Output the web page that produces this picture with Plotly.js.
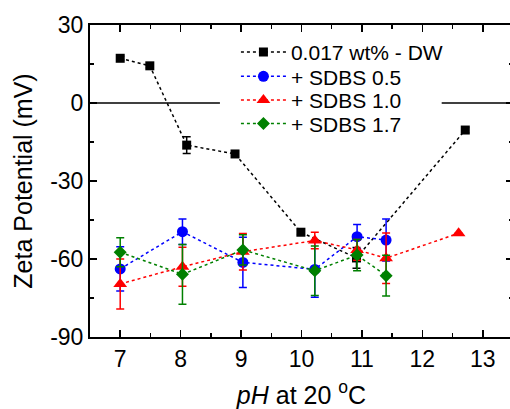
<!DOCTYPE html>
<html>
<head>
<meta charset="utf-8">
<script src="https://cdn.plot.ly/plotly-3.0.1.min.js"></script>
<style>
html,body{margin:0;padding:0;overflow:hidden;background:#fff;width:510px;height:409px;}
#chart{width:530px;height:409px;}
</style>
</head>
<body>
<div id="chart"></div>
<script>
// Data
const phDW = [7.0, 7.49, 8.1, 8.9, 9.99, 10.91, 12.71];
const zetaDW = [17.2, 14.3, -16.2, -19.6, -49.7, -59.6, -10.4];
const errDW = [0.8, 0.8, 3.2, 1.0, 1.0, 4.0, 1.0];

const phS05 = [7.0, 8.03, 9.03, 10.22, 10.92, 11.4];
const zetaS05 = [-63.8, -49.5, -61.3, -64.0, -51.4, -52.7];
const errS05 = [8.5, 4.9, 9.7, 10.7, 4.7, 8.1];

const phS10 = [7.0, 8.03, 9.03, 10.22, 10.92, 11.4, 12.6];
const zetaS10 = [-69.6, -63.0, -57.2, -52.9, -56.5, -59.7, -50.1];
const errS10 = [9.6, 7.5, 7.0, 3.2, 4.0, 9.7, 0];

const phS17 = [7.0, 8.03, 9.03, 10.22, 10.92, 11.4];
const zetaS17 = [-57.4, -65.9, -56.5, -64.5, -58.5, -66.4];
const errS17 = [5.6, 11.5, 5.8, 9.5, 6.0, 7.8];

const names = ['0.017 wt% - DW', '+ SDBS 0.5', '+ SDBS 1.0', '+ SDBS 1.7'];
const xTicks = [7, 8, 9, 10, 11, 12, 13];
const yTicks = [-90, -60, -30, 0, 30];
// zero reference line, interrupted where the legend sits
const zeroLineSegments = [[6.5, 8.65], [12.32, 13.5]];

function tr(x, y, e, name, color, symbol, size, legendId) {
  return {
    x: x, y: y, name: name, type: 'scatter', mode: 'lines+markers',
    legend: legendId,
    line: {color: color, width: 1.5, dash: 'dot'},
    marker: {color: color, symbol: symbol, size: size},
    error_y: {type: 'data', array: e, visible: true, color: color, thickness: 1.5, width: 4}
  };
}

const data = [
  tr(phDW, zetaDW, errDW, names[0], '#000000', 'square', 9, 'legend'),
  tr(phS05, zetaS05, errS05, names[1], '#0000ff', 'circle', 11, 'legend2'),
  tr(phS10, zetaS10, errS10, names[2], '#ff0000', 'triangle-up', 12, 'legend3'),
  tr(phS17, zetaS17, errS17, names[3], '#008000', 'diamond', 10, 'legend4')
];

const shapes = zeroLineSegments.map(s => ({
  type: 'line', xref: 'x', yref: 'y', x0: s[0], x1: s[1], y0: 0, y1: 0,
  line: {color: '#000', width: 1.5}, layer: 'below'
}));

const font = 'Liberation Sans, Arial, sans-serif';
function leg(y) {
  return {
    x: 0.345, y: y, xanchor: 'left', yanchor: 'top',
    bgcolor: 'rgba(0,0,0,0)', borderwidth: 0,
    font: {family: font, size: 21, color: '#000'},
    itemwidth: 45
  };
}
const layout = {
  width: 530, height: 409,
  margin: {l: 90, r: 16.5, t: 25, b: 72},
  paper_bgcolor: '#fff', plot_bgcolor: '#fff',
  font: {family: font, color: '#000', size: 23},
  showlegend: true,
  shapes: shapes,
  legend: leg(0.978),
  legend2: leg(0.900),
  legend3: leg(0.824),
  legend4: leg(0.749),
  xaxis: {
    range: [6.5, 13.5], tickvals: xTicks, ticktext: xTicks.map(String),
    ticks: 'inside', ticklen: 7, tickwidth: 1.5, tickcolor: '#000',
    showline: true, linewidth: 2, linecolor: '#000', mirror: 'ticks',
    showgrid: false, zeroline: false,
    minor: {dtick: 0.5, ticks: 'inside', ticklen: 4, tickwidth: 1.5, tickcolor: '#000', showgrid: false},
    tickfont: {size: 23},
    title: {text: '<i>pH</i> at 20 <sup>o</sup>C', font: {size: 25}, standoff: 16}
  },
  yaxis: {
    range: [-90, 30], tickvals: yTicks, ticktext: yTicks.map(String),
    ticks: 'inside', ticklen: 7, tickwidth: 1.5, tickcolor: '#000',
    showline: true, linewidth: 2, linecolor: '#000', mirror: 'ticks',
    showgrid: false, zeroline: false,
    minor: {dtick: 15, ticks: 'inside', ticklen: 4, tickwidth: 1.5, tickcolor: '#000', showgrid: false},
    tickfont: {size: 23},
    title: {text: 'Zeta Potential (mV)', font: {size: 25}, standoff: 10}
  }
};

Plotly.newPlot('chart', data, layout, {displayModeBar: false, staticPlot: true});
</script>
</body>
</html>
